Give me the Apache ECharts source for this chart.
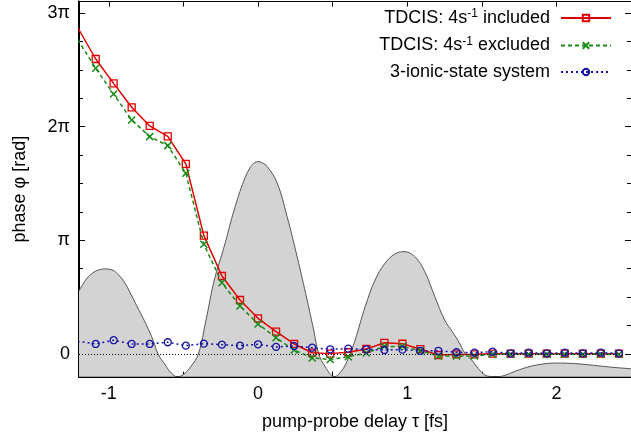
<!DOCTYPE html>
<html>
<head>
<meta charset="utf-8">
<script src="https://cdn.jsdelivr.net/npm/echarts@6/dist/echarts.min.js"></script>
<style>
html,body{margin:0;padding:0;background:#fff;}
#chart{width:631px;height:443px;}
</style>
</head>
<body>
<div id="chart"></div>
<script>
// pump-probe delays [fs]
const delays = [-1.209, -1.088, -0.968, -0.847, -0.726, -0.605, -0.484, -0.363, -0.242, -0.121,
  0.000, 0.121, 0.242, 0.363, 0.484, 0.605, 0.726, 0.847, 0.968, 1.088,
  1.209, 1.330, 1.451, 1.572, 1.693, 1.814, 1.935, 2.056, 2.177, 2.298, 2.419];
// phase in units of pi
const phaseIncluded = [2.872, 2.595, 2.381, 2.170, 2.006, 1.915, 1.672, 1.041, 0.686, 0.475,
  0.314, 0.196, 0.088, 0.011, 0.003, 0.015, 0.044, 0.098, 0.090, 0.042,
  -0.009, -0.004, -0.003, 0.003, 0.003, 0.003, 0.003, 0.003, 0.003, 0.003, 0.003];
const phaseExcluded = [2.767, 2.513, 2.287, 2.059, 1.912, 1.833, 1.590, 0.965, 0.627, 0.422,
  0.264, 0.143, 0.035, -0.035, -0.049, -0.024, 0.008, 0.067, 0.066, 0.028,
  -0.018, -0.018, -0.018, -0.003, -0.003, -0.003, -0.003, -0.003, -0.003, -0.003, -0.003];
const phaseIonic = [0.111, 0.088, 0.121, 0.088, 0.088, 0.103, 0.073, 0.091, 0.082, 0.073,
  0.085, 0.062, 0.070, 0.055, 0.041, 0.047, 0.040, 0.035, 0.038, 0.028,
  0.028, 0.015, 0.011, 0.020, 0.006, 0.011, 0.006, 0.011, 0.006, 0.011, 0.006];
// shaded background pulse curve (units of pi)
const envDelay = [-1.2, -1.15, -1.1, -1.05, -1.02, -0.98, -0.95, -0.9, -0.85, -0.8, -0.75, -0.7, -0.67,
  -0.62, -0.58, -0.54, -0.5, -0.45, -0.4, -0.35, -0.293, -0.227, -0.16, -0.093, -0.049, -0.02, 0.0, 0.025,
  0.062, 0.129, 0.195, 0.262, 0.329, 0.373, 0.407, 0.451, 0.51, 0.57, 0.616, 0.651, 0.718, 0.785,
  0.851, 0.918, 0.98, 1.051, 1.118, 1.185, 1.251, 1.3, 1.34, 1.39, 1.43, 1.495, 1.54, 1.6, 1.65,
  1.7, 1.8, 1.9, 2.0, 2.1, 2.2, 2.3, 2.4, 2.5];
const envValue = [0.554, 0.66, 0.72, 0.745, 0.748, 0.74, 0.715, 0.64, 0.52, 0.39, 0.26, 0.11, 0.0,
  -0.1, -0.17, -0.2, -0.18, -0.11, 0.0, 0.29, 0.651, 0.944, 1.267, 1.531, 1.648, 1.685, 1.692, 1.684,
  1.648, 1.502, 1.208, 0.856, 0.475, 0.211, 0.0, -0.112, -0.2, -0.13, 0.0, 0.123, 0.416, 0.651,
  0.798, 0.88, 0.9, 0.856, 0.724, 0.504, 0.299, 0.2, 0.12, 0.0, -0.05, -0.156, -0.195, -0.2, -0.19,
  -0.165, -0.118, -0.09, -0.08, -0.083, -0.093, -0.107, -0.12, -0.13];
// axis ticks
const xTickValues = [-1, -0.5, 0, 0.5, 1, 1.5, 2, 2.5];
const xLabelValues = [-1, 0, 1, 2];
const yMajorValues = [0, 1, 2, 3];
const yMajorLabels = ['0', 'π', '2π', '3π'];
const yMinorValues = [0, 0.25, 0.5, 0.75, 1, 1.25, 1.5, 1.75, 2, 2.25, 2.5, 2.75, 3];
const seriesNames = ['TDCIS: 4s-1 included', 'TDCIS: 4s-1 excluded', '3-ionic-state system'];

const FONT = "'Liberation Sans', Arial, sans-serif";
const RED = '#e00000', GREEN = '#168a16', BLUE = '#1414a8';
const zip = (xs, ys) => xs.map((x, i) => [x, ys[i]]);
const XMIN = -1.2, XMAX = 2.5, YMIN = -0.2, YMAX = 3.1;

function yAx(pos, showLine, lineW, ticks, len, labels) {
  return {
    type: 'value', position: pos, min: YMIN, max: YMAX,
    axisLine: {show: showLine, onZero: false, lineStyle: {color: '#000', width: lineW}},
    axisTick: {show: true, inside: true, length: len, customValues: ticks, lineStyle: {color: '#000', width: 1}},
    axisLabel: labels ? {
      show: true, customValues: yMajorValues, margin: 9, fontSize: 18, fontFamily: FONT, color: '#000',
      formatter: v => yMajorLabels[yMajorValues.indexOf(Math.round(v))]
    } : {show: false},
    splitLine: {show: false}
  };
}

const chart = echarts.init(document.getElementById('chart'), null, {renderer: 'canvas'});
chart.setOption({
  animation: false,
  backgroundColor: '#fff',
  grid: {left: 79, top: 1.6, width: 555, height: 375.1, containLabel: false},
  legend: {
    data: seriesNames, orient: 'vertical', right: 19, top: 8, align: 'right', padding: 0,
    itemWidth: 50, itemHeight: 8, itemGap: 8.5, selectedMode: false,
    textStyle: {
      fontSize: 18, fontFamily: FONT, color: '#000',
      rich: {
        t: {fontSize: 18, lineHeight: 20, fontFamily: FONT, color: '#000'},
        s: {fontSize: 12, lineHeight: 12, verticalAlign: 'top', fontFamily: FONT, color: '#000'},
        g: {width: 6}
      }
    },
    formatter: name => {
      const m = name.match(/^(.*4s)(-1)(.*)$/);
      if (m) return '{t|' + m[1] + '}{s|' + m[2] + '}{t|' + m[3] + '}{g|}';
      return '{t|' + name + '}{g|}';
    }
  },
  xAxis: [
    {
      type: 'value', position: 'bottom', min: XMIN, max: XMAX,
      axisLine: {show: true, onZero: false, lineStyle: {color: '#000', width: 2}},
      axisTick: {show: true, inside: true, length: 5, customValues: xTickValues, lineStyle: {color: '#000'}},
      axisLabel: {show: true, customValues: xLabelValues, margin: 8, fontSize: 18, fontFamily: FONT, color: '#000',
        formatter: v => String(v)},
      splitLine: {show: false},
      name: 'pump-probe delay τ [fs]', nameLocation: 'middle', nameGap: 36,
      nameTextStyle: {fontSize: 18, fontFamily: FONT, color: '#000'}
    },
    {
      type: 'value', position: 'top', min: XMIN, max: XMAX,
      axisLine: {show: true, onZero: false, lineStyle: {color: '#000', width: 1}},
      axisTick: {show: true, inside: true, length: 5, customValues: xTickValues, lineStyle: {color: '#000'}},
      axisLabel: {show: false}, splitLine: {show: false}
    }
  ],
  yAxis: [
    Object.assign(yAx('left', true, 2, yMajorValues, 6, true), {
      name: 'phase φ [rad]', nameLocation: 'middle', nameGap: 50,
      nameTextStyle: {fontSize: 18, fontFamily: FONT, color: '#000'}
    }),
    yAx('left', false, 1, yMinorValues, 4, false),
    yAx('right', true, 1, yMajorValues, 6, false),
    yAx('right', false, 1, yMinorValues, 4, false)
  ],
  series: [
    {
      type: 'line', name: 'pulse', data: zip(envDelay, envValue), symbol: 'none', smooth: 0.4,
      lineStyle: {color: '#555555', width: 1},
      areaStyle: {color: '#d3d3d3', origin: 'start', opacity: 1},
      z: 1, silent: true,
      markLine: {
        silent: true, symbol: 'none', label: {show: false},
        lineStyle: {color: '#000', width: 1, type: [1, 2]},
        data: [{yAxis: 0}]
      }
    },
    {
      type: 'line', name: seriesNames[0], data: zip(delays, phaseIncluded),
      symbol: 'rect', symbolSize: 7, clip: true, z: 3,
      lineStyle: {color: RED, width: 1.5, type: 'solid'},
      itemStyle: {color: 'rgba(0,0,0,0)', borderColor: RED, borderWidth: 1.3}
    },
    {
      type: 'line', name: seriesNames[1], data: zip(delays, phaseExcluded),
      symbol: 'path://M0,0L10,10M10,0L0,10', symbolSize: 7, clip: true, z: 4,
      lineStyle: {color: GREEN, width: 1.5, type: [4, 3]},
      itemStyle: {color: 'rgba(0,0,0,0)', borderColor: GREEN, borderWidth: 1.5}
    },
    {
      type: 'line', name: seriesNames[2], data: zip(delays, phaseIonic),
      symbol: 'circle', symbolSize: 7, clip: true, z: 5,
      lineStyle: {color: BLUE, width: 1.5, type: [2, 3]},
      itemStyle: {color: 'rgba(0,0,0,0)', borderColor: BLUE, borderWidth: 1.3}
    }
  ]
});
</script>
</body>
</html>
